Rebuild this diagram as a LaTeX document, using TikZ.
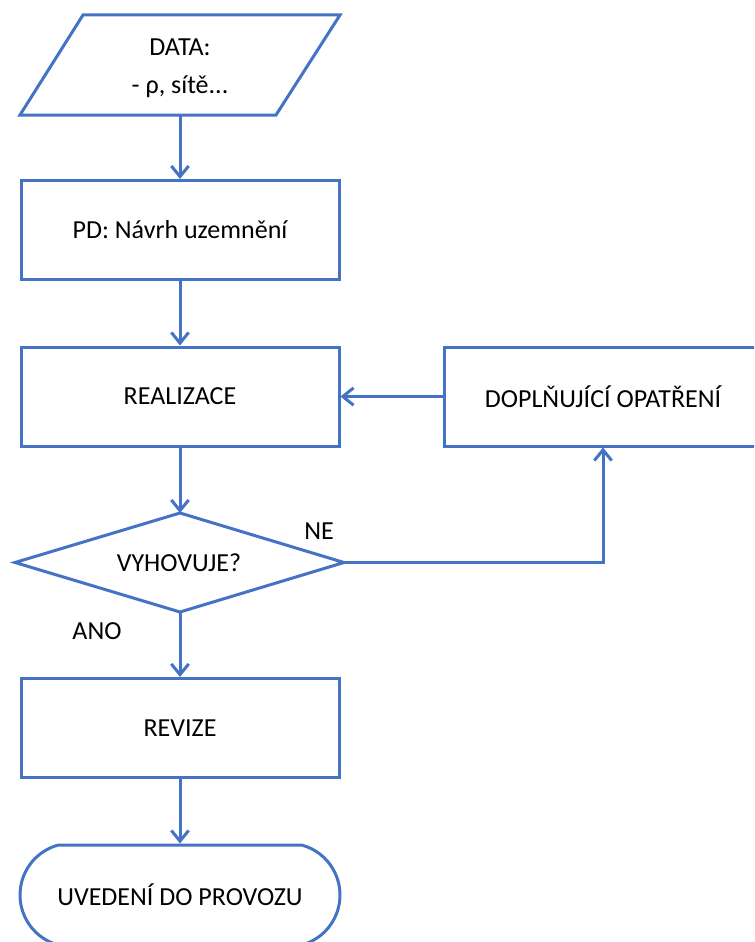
\documentclass[tikz,border=0pt]{standalone}
\usepackage{fontspec}
\setmainfont{Carlito}
\usetikzlibrary{arrows.meta,shapes.misc}
\definecolor{flowblue}{HTML}{4472C4}
\begin{document}
\begin{tikzpicture}[x=0.75pt,y=-0.75pt,
  line width=2.25pt,
  txt/.style={font=\fontsize{19.5}{28.5}\selectfont, text=black, inner sep=0pt, align=center},
  box/.style={txt, draw=flowblue, rectangle, minimum width=238.5pt, minimum height=74.25pt},
  term/.style={txt, draw=flowblue, rounded rectangle, rounded rectangle arc length=150, minimum width=240pt, minimum height=75pt},
  shapeline/.style={draw=flowblue, line join=miter},
  conn/.style={draw=flowblue, -{Straight Barb[length=8pt,width=13pt]}},
]
\clip (0,0) rectangle (754,942);
% input parallelogram
\coordinate (p1) at (83,15);
\coordinate (p2) at (340,15);
\coordinate (p3) at (276,115);
\coordinate (p4) at (20,115);
\draw[shapeline] (p1) -- (p2) -- (p3) -- (p4) -- cycle;
\node[txt] (data) at (180,68) {DATA:\\- ρ, sítě...};
\coordinate (databot) at (180,115);
% boxes
\node[box] (pd) at (180,230) {PD: Návrh uzemnění};
\node[box] (real) at (180,396.5) {REALIZACE};
\node[box] (dopl) at (603,396.5) {DOPLŇUJÍCÍ OPATŘENÍ};
% decision
\coordinate (dtop) at (180,513);
\coordinate (dright) at (344,562.5);
\coordinate (dbot) at (180,612);
\coordinate (dleft) at (15,562.5);
\draw[shapeline] (dtop) -- (dright) -- (dbot) -- (dleft) -- cycle;
\node[txt] (dec) at (179,563) {VYHOVUJE?};
\node[box] (rev) at (180,728) {REVIZE};
\node[term] (end) at (180,895) {UVEDENÍ DO PROVOZU};
% labels
\node[txt] (ne) at (319,531) {NE};
\node[txt] (ano) at (97,631) {ANO};
% connectors
\draw[conn] (databot) -- (pd.north);
\draw[conn] (pd.south) -- (real.north);
\draw[conn] (real.south) -- (dtop);
\draw[conn] (dopl.west) -- (real.east);
\draw[conn] (dright) -| (dopl.south);
\draw[conn] (dbot) -- (rev.north);
\draw[conn] (rev.south) -- (end.north);
\end{tikzpicture}
\end{document}
